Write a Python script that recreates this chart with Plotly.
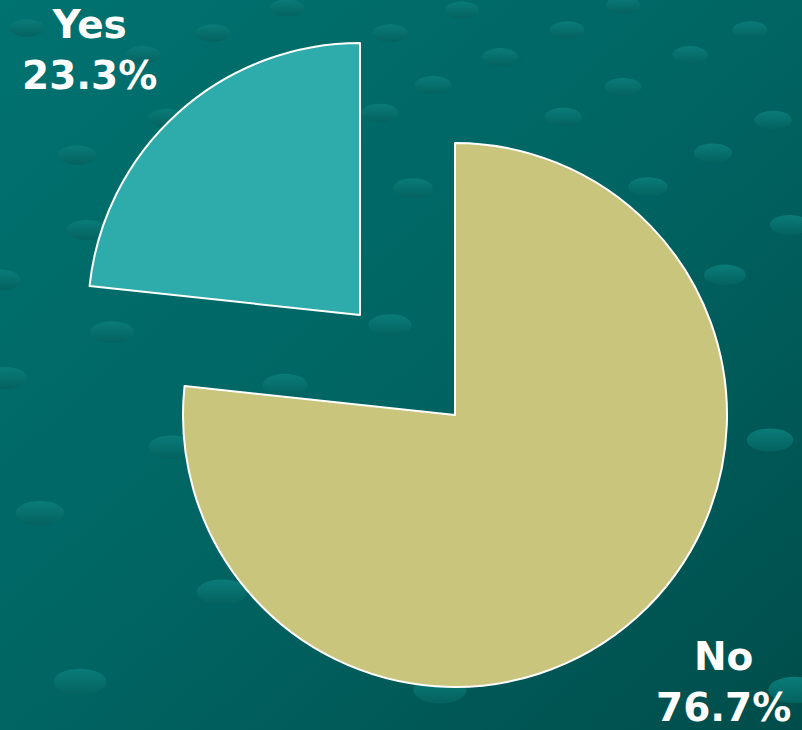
import base64
import plotly.graph_objects as go

# ---- data ----
labels = ["No", "Yes"]
values = [76.7, 23.3]
slice_colors = ["#c9c57d", "#2eacac"]

# ---- decorative background: gradient + perspective dots ----
dots = [(27, 28), (213, 33), (287, 8), (143, 55), (390, 33), (167, 118), (380, 113),
        (77, 155), (87, 230), (0, 280), (390, 325), (5, 378),
        (112, 332), (172, 447), (40, 513), (222, 592), (80, 682), (285, 385),
        (462, 10), (567, 30), (500, 57), (433, 85), (623, 5), (750, 30), (690, 55),
        (623, 87), (563, 117), (773, 120), (713, 153), (648, 187), (413, 188),
        (725, 275), (790, 225), (770, 440), (795, 690), (440, 690)]
ell = ""
for (x, y) in dots:
    rx = 17 + y * 0.014
    ell += f"<ellipse cx='{x}' cy='{y}' rx='{rx:.1f}' ry='{rx*0.5:.1f}' fill='url(#d)'/>"
svg = f"""<svg xmlns='http://www.w3.org/2000/svg' width='802' height='730' viewBox='0 0 802 730'>
<defs><linearGradient id='g' x1='0' y1='0' x2='1' y2='1'>
<stop offset='0' stop-color='#007270'/><stop offset='0.5' stop-color='#006563'/>
<stop offset='1' stop-color='#004d4b'/></linearGradient>
<linearGradient id='d' x1='0' y1='0' x2='0' y2='1'>
<stop offset='0' stop-color='#0a7c79'/><stop offset='1' stop-color='#04625f'/></linearGradient></defs>
<rect width='802' height='730' fill='url(#g)'/>{ell}</svg>"""
bg_src = "data:image/svg+xml;base64," + base64.b64encode(svg.encode()).decode()

W, H = 802, 730
R = 272
centers = {"No": (455, 415), "Yes": (360, 315)}


def dom(cx, cy):
    return dict(x=[(cx - R) / W, (cx + R) / W],
                y=[1 - (cy + R) / H, 1 - (cy - R) / H])


fig = go.Figure()
for i, lab in enumerate(labels):
    cols = [c if j == i else "rgba(0,0,0,0)" for j, c in enumerate(slice_colors)]
    lw = [2 if j == i else 0 for j in range(len(labels))]
    cx, cy = centers[lab]
    fig.add_trace(go.Pie(
        labels=labels, values=values, sort=False, direction="clockwise",
        rotation=0, textinfo="none", hoverinfo="label+percent",
        marker=dict(colors=cols, line=dict(color="white", width=lw)),
        domain=dom(cx, cy), showlegend=False,
    ))

label_pos = {"Yes": (89, 50), "No": (723, 682)}
for lab, v in zip(labels, values):
    x, y = label_pos[lab]
    fig.add_annotation(
        x=x / W, y=1 - y / H, xref="paper", yref="paper",
        xanchor="center", yanchor="middle",
        text=f"<b>{lab}</b><br><b>{v:.1f}%</b>", showarrow=False, align="center",
        font=dict(family="DejaVu Sans, sans-serif", size=39, color="white"),
    )

fig.update_layout(
    width=W, height=H, margin=dict(l=0, r=0, t=0, b=0),
    paper_bgcolor="#006664",
    images=[dict(source=bg_src, xref="paper", yref="paper", x=0, y=1,
                 sizex=1, sizey=1, xanchor="left", yanchor="top",
                 sizing="stretch", layer="below")],
)
fig.write_html("out.html", config={"displayModeBar": False},
               post_script="document.body.style.margin='0';document.body.style.overflow='hidden';")
